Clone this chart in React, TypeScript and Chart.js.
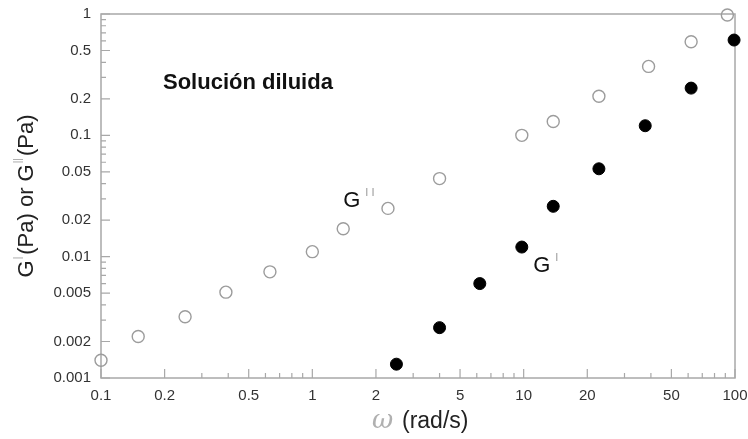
import React, { useEffect, useRef } from 'react';
import { Chart, registerables } from 'chart.js';

Chart.register(...registerables);

// Loss modulus G'' (open circles)
const lossOmega = [0.1, 0.15, 0.25, 0.39, 0.63, 1.0, 1.4, 2.28, 4.0, 9.8, 13.8, 22.7, 39, 62, 92];
const lossModulus = [0.0014, 0.0022, 0.0032, 0.0051, 0.0075, 0.011, 0.017, 0.025, 0.044, 0.1, 0.13, 0.21, 0.37, 0.59, 0.98];

// Storage modulus G' (filled circles)
const storageOmega = [2.5, 4.0, 6.2, 9.8, 13.8, 22.7, 37.6, 62, 99];
const storageModulus = [0.0013, 0.0026, 0.006, 0.012, 0.026, 0.053, 0.12, 0.245, 0.61];

// Axis ticks
const xTickValues = [0.1, 0.2, 0.5, 1, 2, 5, 10, 20, 50, 100];
const xTickLabels = ['0.1', '0.2', '0.5', '1', '2', '5', '10', '20', '50', '100'];
const yTickValues = [0.001, 0.002, 0.005, 0.01, 0.02, 0.05, 0.1, 0.2, 0.5, 1];
const yTickLabels = ['0.001', '0.002', '0.005', '0.01', '0.02', '0.05', '0.1', '0.2', '0.5', '1'];
const minorMultipliers = [3, 4, 6, 7, 8, 9];

const FONT = '"Liberation Sans", Arial, sans-serif';
const AXIS_GREY = '#a8a8a8';

function minorValues(min: number, max: number): number[] {
  const out: number[] = [];
  for (let e = Math.floor(Math.log10(min)); e <= Math.ceil(Math.log10(max)); e++) {
    for (const m of minorMultipliers) {
      const v = m * Math.pow(10, e);
      if (v > min && v < max) out.push(v);
    }
  }
  return out;
}

const framePlugin = {
  id: 'frameAndTicks',
  beforeDatasetsDraw(chart: any) {
    const { ctx, chartArea: a, scales } = chart;
    const xs = scales.x;
    const ys = scales.y;
    ctx.save();
    ctx.strokeStyle = AXIS_GREY;
    ctx.lineWidth = 1.5;
    ctx.strokeRect(a.left, a.top, a.right - a.left, a.bottom - a.top);
    ctx.lineWidth = 1.2;
    ctx.beginPath();
    for (const v of xTickValues) {
      const p = xs.getPixelForValue(v);
      ctx.moveTo(p, a.bottom);
      ctx.lineTo(p, a.bottom - 9);
    }
    for (const v of minorValues(0.1, 100)) {
      const p = xs.getPixelForValue(v);
      ctx.moveTo(p, a.bottom);
      ctx.lineTo(p, a.bottom - 5);
    }
    for (const v of yTickValues) {
      const p = ys.getPixelForValue(v);
      ctx.moveTo(a.left, p);
      ctx.lineTo(a.left + 9, p);
    }
    for (const v of minorValues(0.001, 1)) {
      const p = ys.getPixelForValue(v);
      ctx.moveTo(a.left, p);
      ctx.lineTo(a.left + 5, p);
    }
    ctx.stroke();
    ctx.restore();
  },
  afterDraw(chart: any) {
    const { ctx, chartArea: a, scales } = chart;
    const xs = scales.x;
    const ys = scales.y;
    ctx.save();
    ctx.textBaseline = 'alphabetic';

    // Panel heading
    ctx.fillStyle = '#111';
    ctx.font = `bold 22px ${FONT}`;
    ctx.textAlign = 'left';
    ctx.fillText('Solución diluida', 163, 89);

    // Series labels
    const drawModLabel = (x: number, y: number, mark: string) => {
      ctx.fillStyle = '#111';
      ctx.font = `22px ${FONT}`;
      ctx.textAlign = 'left';
      ctx.fillText('G', x, y);
      const w = ctx.measureText('G').width;
      ctx.fillStyle = '#9a9a9a';
      ctx.font = `11px ${FONT}`;
      ctx.fillText(mark, x + w + 5, y - 11);
    };
    drawModLabel(xs.getPixelForValue(1.4), ys.getPixelForValue(0.0256), 'I I');
    drawModLabel(xs.getPixelForValue(11.1), ys.getPixelForValue(0.0075), 'I');

    // Y axis title, rotated
    ctx.save();
    ctx.translate(33, (a.top + a.bottom) / 2);
    ctx.rotate(-Math.PI / 2);
    const parts: [string, boolean][] = [
      ['G', false], ['|', true], ['(Pa) or G', false], ['||', true], ['(Pa)', false],
    ];
    let total = 0;
    const widths: number[] = [];
    for (const [t, sup] of parts) {
      ctx.font = sup ? `10px ${FONT}` : `22px ${FONT}`;
      const w = ctx.measureText(t).width + (sup ? 3 : 0);
      widths.push(w);
      total += w;
    }
    let cx = -total / 2;
    parts.forEach(([t, sup], i) => {
      ctx.font = sup ? `10px ${FONT}` : `22px ${FONT}`;
      ctx.fillStyle = sup ? '#a0a0a0' : '#222';
      ctx.textAlign = 'left';
      ctx.fillText(t, cx + (sup ? 1 : 0), sup ? -12 : 0);
      cx += widths[i];
    });
    ctx.restore();

    // X axis title
    const midX = (a.left + a.right) / 2;
    ctx.font = `italic 300 26px "DejaVu Serif", serif`;
    ctx.fillStyle = '#b0b0b0';
    ctx.textAlign = 'left';
    ctx.fillText('ω', midX - 46, 428);
    ctx.font = `23px ${FONT}`;
    ctx.fillStyle = '#222';
    ctx.fillText('(rad/s)', midX - 16, 428);

    ctx.restore();
  },
};

export default function App() {
  const canvasRef = useRef<HTMLCanvasElement | null>(null);

  useEffect(() => {
    document.body.style.margin = '0';
    const canvas = canvasRef.current;
    if (!canvas) return;

    const chart = new Chart(canvas, {
      type: 'scatter',
      data: {
        datasets: [
          {
            label: "G''",
            data: lossOmega.map((x, i) => ({ x, y: lossModulus[i] })),
            pointRadius: 6,
            pointHoverRadius: 6,
            pointBorderWidth: 1.4,
            pointBorderColor: '#9c9c9c',
            pointBackgroundColor: 'rgba(255,255,255,0)',
            clip: false as any,
          },
          {
            label: "G'",
            data: storageOmega.map((x, i) => ({ x, y: storageModulus[i] })),
            pointRadius: 6,
            pointHoverRadius: 6,
            pointBorderWidth: 1,
            pointBorderColor: '#000',
            pointBackgroundColor: '#000',
            clip: false as any,
          },
        ],
      },
      options: {
        responsive: false,
        animation: false,
        events: [],
        layout: { padding: { top: 14, right: 13, left: 0, bottom: 0 } },
        plugins: {
          legend: { display: false },
          tooltip: { enabled: false },
        },
        scales: {
          x: {
            type: 'logarithmic',
            min: 0.1,
            max: 100,
            afterBuildTicks: (s: any) => {
              s.ticks = xTickValues.map((v) => ({ value: v }));
            },
            afterFit: (s: any) => {
              s.height = 61;
              s.paddingLeft = 0;
              s.paddingRight = 0;
            },
            grid: { display: false, drawTicks: false },
            border: { display: false },
            ticks: {
              autoSkip: false,
              maxRotation: 0,
              padding: 9,
              color: '#333',
              font: { family: FONT, size: 15 },
              callback: (_v: any, i: number) => xTickLabels[i],
            },
          },
          y: {
            type: 'logarithmic',
            min: 0.001,
            max: 1,
            afterBuildTicks: (s: any) => {
              s.ticks = yTickValues.map((v) => ({ value: v }));
            },
            afterFit: (s: any) => {
              s.width = 101;
              s.paddingTop = 0;
              s.paddingBottom = 0;
            },
            grid: { display: false, drawTicks: false },
            border: { display: false },
            ticks: {
              autoSkip: false,
              padding: 10,
              color: '#333',
              font: { family: FONT, size: 15 },
              callback: (_v: any, i: number) => yTickLabels[i],
            },
          },
        },
      },
      plugins: [framePlugin],
    });

    return () => chart.destroy();
  }, []);

  return (
    <div style={{ width: 748, height: 439, background: '#fff' }}>
      <canvas ref={canvasRef} width={748} height={439} />
    </div>
  );
}
